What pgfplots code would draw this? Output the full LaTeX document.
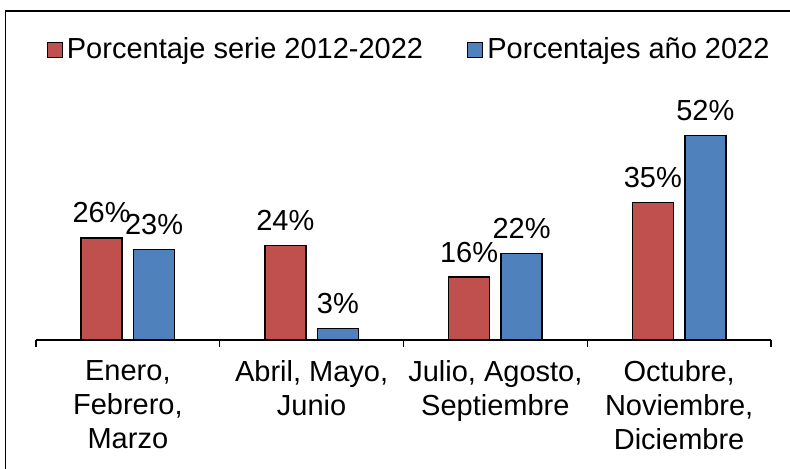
\documentclass[border=0pt]{standalone}
\usepackage{fontspec}
\setmainfont{Liberation Sans}
\usepackage{pgfplots}
\pgfplotsset{compat=1.18}

\definecolor{serie}{HTML}{C0504D}
\definecolor{anio}{HTML}{4F81BD}

\begin{document}
\begin{tikzpicture}
\begin{axis}[
  at={(18pt,64.5pt)}, anchor=south west,
  scale only axis,
  width=367.5pt, height=117.9pt,
  ybar=5.75pt, bar width=20.5pt,
  xmin=-0.5, xmax=3.5, ymin=0, ymax=60,
  hide y axis,
  axis x line*=bottom,
  axis line style={line width=0.7pt},
  xtick={0,1,2,3},
  xticklabels={{Enero,\\Febrero,\\Marzo},{Abril, Mayo,\\Junio},{Julio, Agosto,\\Septiembre},{Octubre,\\Noviembre,\\Diciembre}},
  major tick length=0pt,
  minor xtick={-0.5,0.5,1.5,2.5,3.5},
  minor tick length=3.5pt,
  tick align=outside,
  tick style={line width=0.7pt, black},
  xticklabel style={align=center, yshift=-6.5pt},
  font=\fontsize{14.5}{17}\selectfont,
  nodes near coords={\pgfmathprintnumber[assume math mode=true]{\pgfplotspointmeta}\%},
  every node near coord/.append style={yshift=3.7pt, font=\fontsize{14.5}{17}\selectfont, black},
  legend columns=2,
  legend style={draw=none, fill=none, at={(0.509,1.23)}, anchor=center,
    font=\fontsize{14.5}{17}\selectfont,
    /tikz/every even column/.append style={column sep=20pt}},
  legend image code/.code={\draw[#1, line width=0.6pt] (0pt,-3.75pt) rectangle (7.5pt,3.75pt);},
]
\addplot[fill=serie, draw=black, line width=0.7pt] coordinates {(0,26) (1,24) (2,16) (3,35)};
\addplot[fill=anio, draw=black, line width=0.7pt] coordinates {(0,23) (1,3) (2,22) (3,52)};
\legend{Porcentaje serie 2012-2022, Porcentajes año 2022}
\end{axis}
\draw[line width=0.75pt] (2.75pt,-20pt) rectangle (420pt,229pt);
\pgfresetboundingbox
\path[use as bounding box] (0,0) rectangle (395pt,234.5pt);
\end{tikzpicture}
\end{document}
